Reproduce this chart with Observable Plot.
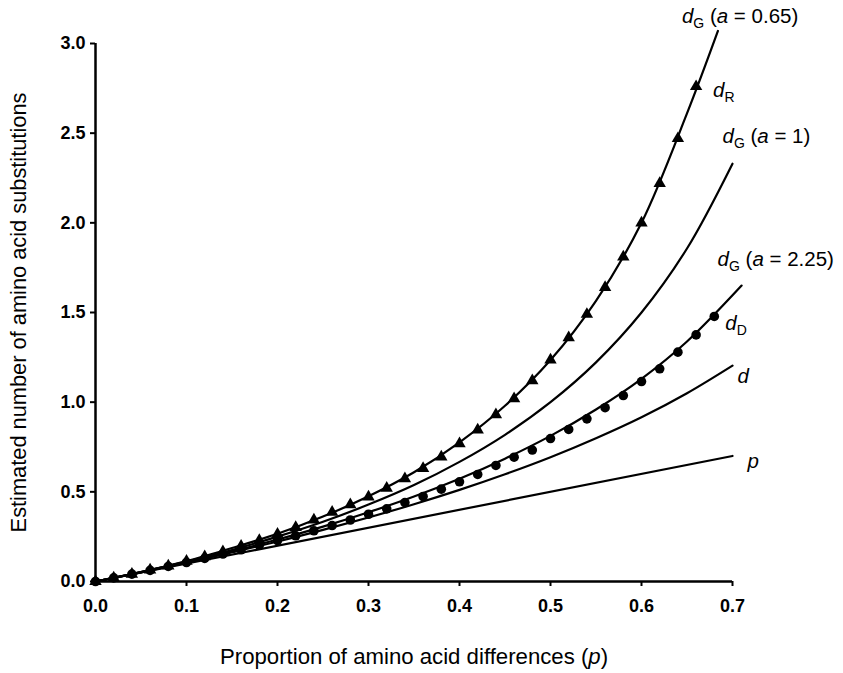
<!DOCTYPE html>
<html>
<head>
<meta charset="utf-8">
<script src="https://cdn.jsdelivr.net/npm/d3@7"></script>
<script src="https://cdn.jsdelivr.net/npm/@observablehq/plot@0.6"></script>
<style>
  body { margin: 0; background: #fff; }
  #chart svg { display: block; }
</style>
</head>
<body>
<div id="chart"></div>
<script>
// ---- Data ----
const xTicks = [0, 0.1, 0.2, 0.3, 0.4, 0.5, 0.6, 0.7];
const yTicks = [0, 0.5, 1.0, 1.5, 2.0, 2.5, 3.0];

// p (proportion itself)
const pX = [0, 0.7];
const pY = [0, 0.7];

// d (Poisson)
const dX = [0, 0.05, 0.1, 0.15, 0.2, 0.25, 0.3, 0.35, 0.4, 0.45, 0.5, 0.55, 0.6, 0.65, 0.7];
const dY = [0, 0.051, 0.105, 0.163, 0.223, 0.288, 0.357, 0.431, 0.511, 0.598, 0.693, 0.799, 0.916, 1.05, 1.204];

// dG (a = 2.25)
const g225X = [0, 0.05, 0.1, 0.15, 0.2, 0.25, 0.3, 0.35, 0.4, 0.45, 0.5, 0.55, 0.6, 0.65, 0.71];
const g225Y = [0, 0.052, 0.108, 0.168, 0.234, 0.306, 0.386, 0.474, 0.573, 0.685, 0.812, 0.959, 1.13, 1.338, 1.65];

// dG (a = 1)
const g1X = [0, 0.05, 0.1, 0.15, 0.2, 0.25, 0.3, 0.35, 0.4, 0.45, 0.5, 0.55, 0.6, 0.65, 0.7];
const g1Y = [0, 0.053, 0.111, 0.176, 0.25, 0.333, 0.429, 0.538, 0.667, 0.818, 1.0, 1.222, 1.5, 1.857, 2.33];

// dG (a = 0.65)
const g065X = [0, 0.05, 0.1, 0.15, 0.2, 0.25, 0.3, 0.35, 0.4, 0.45, 0.5, 0.55, 0.6, 0.65, 0.684];
const g065Y = [0, 0.052, 0.114, 0.187, 0.266, 0.362, 0.475, 0.609, 0.776, 0.98, 1.235, 1.565, 2.0, 2.61, 3.07];

// dR (triangles)
const dRX = [0, 0.02, 0.04, 0.06, 0.08, 0.10, 0.12, 0.14, 0.16, 0.18, 0.20, 0.22, 0.24, 0.26, 0.28, 0.30, 0.32,
             0.34, 0.36, 0.38, 0.40, 0.42, 0.44, 0.46, 0.48, 0.50, 0.52, 0.54, 0.56, 0.58, 0.60, 0.62, 0.64, 0.66];
const dRY = [0, 0.020, 0.041, 0.064, 0.087, 0.113, 0.139, 0.167, 0.197, 0.229, 0.264, 0.302, 0.344, 0.386, 0.428, 0.472, 0.52,
             0.573, 0.63, 0.695, 0.768, 0.845, 0.93, 1.02, 1.12, 1.235, 1.36, 1.49, 1.64, 1.81, 2.0, 2.22, 2.47, 2.76];

// dD (dots)
const dDX = [0, 0.02, 0.04, 0.06, 0.08, 0.10, 0.12, 0.14, 0.16, 0.18, 0.20, 0.22, 0.24, 0.26, 0.28, 0.30, 0.32, 0.34,
             0.36, 0.38, 0.40, 0.42, 0.44, 0.46, 0.48, 0.50, 0.52, 0.54, 0.56, 0.58, 0.60, 0.62, 0.64, 0.66, 0.68];
const dDY = [0, 0.020, 0.041, 0.062, 0.084, 0.106, 0.129, 0.153, 0.177, 0.202, 0.228, 0.255, 0.283, 0.312, 0.343, 0.375, 0.405, 0.44,
             0.474, 0.515, 0.556, 0.597, 0.647, 0.693, 0.733, 0.797, 0.848, 0.907, 0.969, 1.037, 1.115, 1.186, 1.279, 1.375, 1.478];

const xTitle = "Proportion of amino acid differences (p)";
const yTitle = "Estimated number of amino acid substitutions";

// ---- Build tables ----
const zip = (xs, ys, series) => xs.map((x, i) => ({x, y: ys[i], series}));
const lineRows = [
  ...zip(pX, pY, "p"),
  ...zip(dX, dY, "d"),
  ...zip(g225X, g225Y, "g225"),
  ...zip(g1X, g1Y, "g1"),
  ...zip(g065X, g065Y, "g065")
];
const dRRows = zip(dRX, dRY, "dR");
const dDRows = zip(dDX, dDY, "dD");

const FONT = "'Liberation Sans', Arial, Helvetica, sans-serif";

function endLabel(xs, ys, key, dx, dy) {
  const i = xs.length - 1;
  return Plot.text([{x: xs[i], y: ys[i]}], {
    x: "x", y: "y", text: () => key, dx, dy,
    textAnchor: "start", lineAnchor: "bottom", fontSize: 20.5
  });
}

const sub = (s) => `<tspan font-size="14" dy="5">${s}</tspan>`;
const it = (s) => `<tspan font-style="italic">${s}</tspan>`;
const richMap = {
  "LBL_G065": `${it("d")}${sub("G")}<tspan dy="-5"> (</tspan>${it("a")}<tspan> = 0.65)</tspan>`,
  "LBL_R": `${it("d")}${sub("R")}`,
  "LBL_G1": `${it("d")}${sub("G")}<tspan dy="-5"> (</tspan>${it("a")}<tspan> = 1)</tspan>`,
  "LBL_G225": `${it("d")}${sub("G")}<tspan dy="-5"> (</tspan>${it("a")}<tspan> = 2.25)</tspan>`,
  "LBL_D": `${it("d")}${sub("D")}`,
  "LBL_d": `${it("d")}`,
  "LBL_p": `${it("p")}`,
  [xTitle]: `Proportion of amino acid differences (${it("p")})`
};

const chart = Plot.plot({
  width: 843,
  height: 673,
  marginLeft: 95,
  marginRight: 111,
  marginTop: 43,
  marginBottom: 92,
  style: {fontFamily: FONT, background: "#fff", color: "#000", overflow: "visible"},
  x: {domain: [0, 0.7]},
  y: {domain: [0, 3]},
  marks: [
    Plot.axisX({ticks: xTicks, tickFormat: d3.format(".1f"), tickSize: 5, tickPadding: 13,
                fontSize: 18, fontWeight: "bold", label: null, strokeWidth: 2}),
    Plot.axisY({ticks: yTicks, tickFormat: d3.format(".1f"), tickSize: 5, tickPadding: 5,
                fontSize: 18, fontWeight: "bold", label: null, strokeWidth: 2}),
    Plot.ruleY([0], {strokeWidth: 2.5}),
    Plot.ruleX([0], {strokeWidth: 2.5}),
    Plot.line(lineRows, {x: "x", y: "y", z: "series", curve: "catmull-rom", stroke: "#000", strokeWidth: 2.2}),
    Plot.dot(dRRows, {x: "x", y: "y", symbol: "triangle", r: 4.6, fill: "#000", stroke: "none"}),
    Plot.dot(dDRows, {x: "x", y: "y", symbol: "circle", r: 4.8, fill: "#000", stroke: "none"}),
    endLabel(g065X, g065Y, "LBL_G065", -36, -8),
    endLabel(dRX, dRY, "LBL_R", 17, 10),
    endLabel(g1X, g1Y, "LBL_G1", -10, -21),
    endLabel(g225X, g225Y, "LBL_G225", -24, -20),
    endLabel(dDX, dDY, "LBL_D", 11, 14),
    endLabel(dX, dY, "LBL_d", 5, 17),
    endLabel(pX, pY, "LBL_p", 15, 12),
    Plot.text([xTitle], {frameAnchor: "bottom", textAnchor: "middle", dy: 82, lineAnchor: "bottom", fontSize: 22.2}),
    Plot.text([yTitle], {frameAnchor: "left", textAnchor: "middle", rotate: -90, dx: -70, lineAnchor: "bottom", fontSize: 21.8})
  ]
});

d3.select(chart).selectAll("text").each(function() {
  const t = this.textContent;
  if (richMap[t]) d3.select(this).html(richMap[t]);
});

document.getElementById("chart").appendChild(chart);
</script>
</body>
</html>
